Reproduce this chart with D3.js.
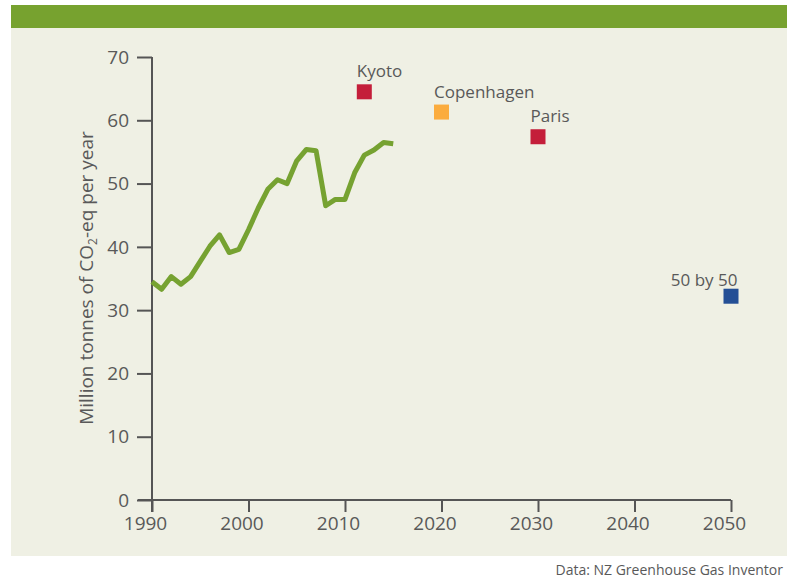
<!DOCTYPE html>
<html>
<head>
<meta charset="utf-8">
<script src="https://cdn.jsdelivr.net/npm/d3@7"></script>
<style>
  html, body { margin: 0; padding: 0; background: #ffffff; }
  svg { display: block; }
  text { font-family: "Open Sans", "Noto Sans", sans-serif; }
</style>
</head>
<body>
<svg id="chart" width="787" height="580"></svg>
<script>
// ---- data ----
const years = [1990,1991,1992,1993,1994,1995,1996,1997,1998,1999,2000,2001,2002,2003,2004,2005,2006,2007,2008,2009,2010,2011,2012,2013,2014,2015];
const emissions = [34.5,33.3,35.3,34.1,35.3,37.7,40.1,41.9,39.1,39.6,42.7,46.1,49.1,50.6,50.0,53.6,55.4,55.2,46.5,47.5,47.5,51.7,54.5,55.3,56.5,56.3];
const targetNames = ["Kyoto","Copenhagen","Paris","50 by 50"];
const targetYears = [2012,2020,2030,2050];
const targetValues = [64.5,61.3,57.4,32.2];
const targetColors = ["#c41e3a","#fbac3e","#c41e3a","#244f95"];
const xTicks = [1990,2000,2010,2020,2030,2040,2050];
const yTicks = [0,10,20,30,40,50,60,70];

const svg = d3.select("#chart");
const W = 787, H = 580;

// background panels
svg.append("rect").attr("x", 11).attr("y", 5).attr("width", W - 11).attr("height", 23).attr("fill", "#77a22f");
svg.append("rect").attr("x", 11).attr("y", 28).attr("width", W - 11).attr("height", 528).attr("fill", "#eff0e4");

const x = d3.scaleLinear().domain([1990, 2050]).range([152, 731]);
const y = d3.scaleLinear().domain([0, 70]).range([500, 57]);

const axisColor = "#555555";
const textColor = "#595959";

// Y axis
const yAxis = svg.append("g").attr("transform", `translate(${x(1990)},0)`)
  .call(d3.axisLeft(y).tickValues(yTicks).tickSize(15).tickPadding(8).tickSizeOuter(0));
yAxis.select(".domain").attr("stroke", axisColor).attr("stroke-width", 2)
  .attr("d", `M0,${y(70)}V${y(0) + 12}`);
yAxis.selectAll(".tick line").attr("stroke", axisColor).attr("stroke-width", 2);
yAxis.selectAll(".tick text").attr("fill", textColor).style("font-size", "19px")
  .attr("font-family", "Open Sans").attr("dy", "0.33em");

// X axis
const xAxis = svg.append("g").attr("transform", `translate(0,${y(0)})`)
  .call(d3.axisBottom(x).tickValues(xTicks).tickFormat(d3.format("d")).tickSize(12).tickPadding(5).tickSizeOuter(0));
xAxis.select(".domain").attr("stroke", axisColor).attr("stroke-width", 2)
  .attr("d", `M${x(1990) - 14},0H${x(2050)}`);
xAxis.selectAll(".tick line").attr("stroke", axisColor).attr("stroke-width", 2);
xAxis.selectAll(".tick text").attr("fill", textColor).style("font-size", "19px")
  .attr("font-family", "Open Sans").attr("dx", "-7");

// Y axis title
const yTitle = svg.append("text")
  .attr("transform", `translate(93,278) rotate(-90)`)
  .attr("text-anchor", "middle")
  .attr("fill", textColor)
  .style("font-size", "19px");
yTitle.append("tspan").text("Million tonnes of CO");
yTitle.append("tspan").attr("dy", "4").style("font-size", "12px").text("2");
yTitle.append("tspan").attr("dy", "-4").text("-eq per year");

// Emissions line
const line = d3.line().x((d, i) => x(years[i])).y(d => y(d));
svg.append("path")
  .datum(emissions)
  .attr("d", line)
  .attr("fill", "none")
  .attr("stroke", "#76a231")
  .attr("stroke-width", 5)
  .attr("stroke-linejoin", "round")
  .attr("stroke-linecap", "butt");

// Target markers
const sz = 15;
const targets = targetNames.map((n, i) => ({ name: n, year: targetYears[i], value: targetValues[i], color: targetColors[i] }));
svg.selectAll("rect.target").data(targets).enter().append("rect")
  .attr("class", "target")
  .attr("x", d => x(d.year) - sz / 2)
  .attr("y", d => y(d.value) - sz / 2)
  .attr("width", sz).attr("height", sz)
  .attr("fill", d => d.color);

svg.selectAll("text.tlabel").data(targets).enter().append("text")
  .attr("class", "tlabel")
  .attr("x", d => d.name === "50 by 50" ? x(d.year) + sz / 2 - 1 : x(d.year) - sz / 2)
  .attr("y", d => d.name === "50 by 50" ? y(d.value) - sz / 2 - 3 : y(d.value) - sz / 2 - 7)
  .attr("text-anchor", d => d.name === "50 by 50" ? "end" : "start")
  .attr("fill", textColor)
  .style("font-size", "17px")
  .text(d => d.name);

// Source (as visible in the reference)
svg.append("text")
  .attr("x", 783).attr("y", 575)
  .attr("text-anchor", "end")
  .attr("fill", textColor)
  .style("font-size", "14px")
  .text("Data: NZ Greenhouse Gas Inventor");
</script>
</body>
</html>
